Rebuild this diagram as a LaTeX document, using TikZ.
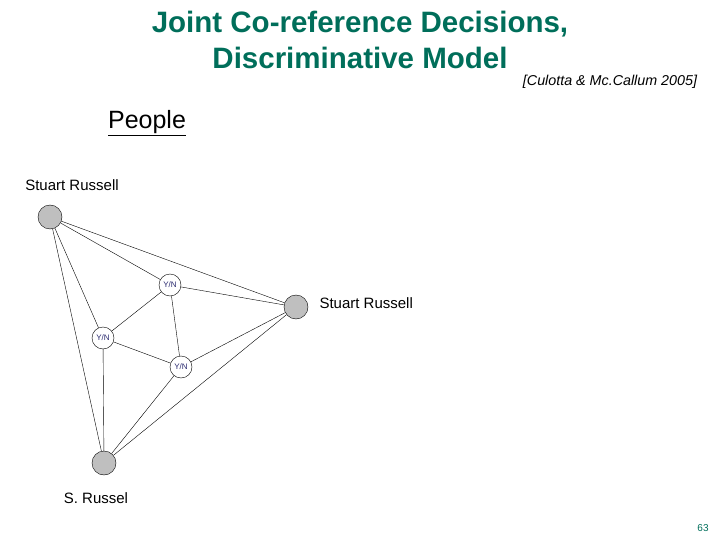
\documentclass[tikz,border=0pt]{standalone}
\usepackage{fontspec}
\setmainfont{Liberation Sans}
\definecolor{teal1}{RGB}{0,110,90}
\definecolor{ynblue}{RGB}{40,40,110}
\begin{document}
\begin{tikzpicture}[x=1pt,y=-1pt,
  ent/.style={circle,draw,fill=black!25,minimum size=24pt,inner sep=0pt},
  yn/.style={circle,draw,fill=white,minimum size=22pt,inner sep=0pt,font=\fontsize{8}{9}\selectfont,text=ynblue},
  lbl/.style={font=\fontsize{15}{18}\selectfont}]
\useasboundingbox (0,0) rectangle (720,540);
\node[text=teal1,font=\bfseries\fontsize{29.5}{36}\selectfont,align=center] (t) at (360,40) {Joint Co-reference Decisions,\\Discriminative Model};
\node[font=\itshape\fontsize{14.3}{17}\selectfont] (c) at (610,82) {[Culotta \& Mc.Callum 2005]};
\node[font=\fontsize{25}{30}\selectfont] (p) at (147,123) {\underline{People}};
\node[ent] (a) at (50,217) {};
\node[ent] (b) at (296,307) {};
\node[ent] (cc) at (104,463) {};
\node[yn] (y1) at (170,285) {Y/N};
\node[yn] (y2) at (103,338) {Y/N};
\node[yn] (y3) at (181,367) {Y/N};
\node[lbl] (la) at (72,185) {Stuart Russell};
\node[lbl,anchor=west] (lb) at (316,303) {Stuart Russell};
\node[lbl] (lc) at (96,498) {S. Russel};
\node[font=\fontsize{10}{12}\selectfont,text=teal1] (n) at (703,528) {63};
\draw (a)--(b) (a)--(y1) (a)--(y2) (a)--(cc) (b)--(y1) (b)--(y3) (b)--(cc)
  (cc)--(y2) (cc)--(y3) (y1)--(y2) (y1)--(y3) (y2)--(y3);
\end{tikzpicture}
\end{document}
